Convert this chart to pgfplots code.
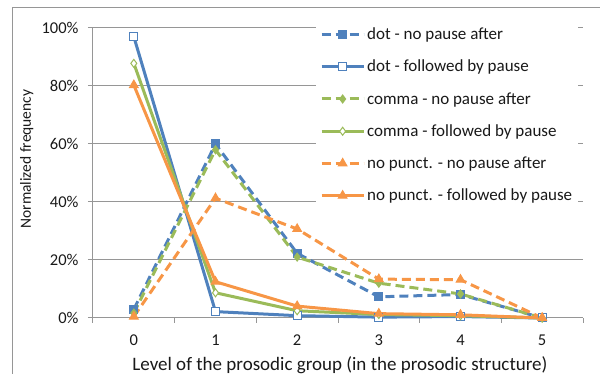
\documentclass[border=0pt]{standalone}
\usepackage{pgfplots}
\pgfplotsset{compat=1.18}
\usepackage{fontspec}
\setmainfont{Carlito}
\definecolor{xblue}{RGB}{79,129,189}
\definecolor{xgreen}{RGB}{155,187,89}
\definecolor{xorange}{RGB}{247,150,70}
\definecolor{xgrid}{RGB}{150,150,150}

\begin{document}
\begin{tikzpicture}
\begin{axis}[
  at={(0pt,0pt)}, anchor=south west,
  scale only axis, width=490pt, height=290pt,
  xmin=-0.5, xmax=5.5, ymin=0, ymax=100,
  clip=false,
  axis x line*=bottom, axis y line*=left,
  axis line style={xgrid, line width=1pt, -},
  xtick={0,...,5},
  minor xtick={-0.5,0.5,...,5.5},
  major x tick style={draw=none},
  ytick={0,20,...,100},
  yticklabel={\pgfmathprintnumber{\tick}\%},
  tick align=outside,
  major tick length=5pt, minor tick length=5pt,
  tick style={xgrid, line width=1pt},
  ymajorgrids,
  major grid style={xgrid, line width=1pt},
  /pgf/number format/assume math mode=true,
  ticklabel style={font=\fontsize{16.5}{18}\selectfont, text=black!90},
  xticklabel style={anchor=center, yshift=-17pt},
  yticklabel style={anchor=east, xshift=-6pt},
  xlabel={Level of the prosodic group (in the prosodic structure)},
  ylabel={Normalized frequency},
  xlabel style={at={(axis description cs:0.504,-0.162)}, anchor=center, font=\fontsize{19}{21}\selectfont, text=black!90},
  ylabel style={at={(axis description cs:-0.135,0.548)}, anchor=center, font=\fontsize{15.5}{17}\selectfont, text=black!90},
  legend style={at={(axis description cs:0.455,1.022)}, anchor=north west,
    draw=none, fill=white, font=\fontsize{17}{20}\selectfont,
    row sep=15pt, inner xsep=4pt, inner ysep=4pt, text=black!90},
  legend cell align=left,
  legend image code/.code={
    \draw[#1, mark=none] (0pt,0pt) -- (42pt,0pt);
    \draw[#1, only marks] plot coordinates {(21pt,0pt)};
  },
]
\addplot[xblue, line width=3pt, dash pattern=on 9pt off 5pt, mark=square*, mark size=4pt, mark options={solid, fill=xblue, line width=1pt}]
  coordinates {(0,3) (1,60) (2,22.3) (3,7.3) (4,8.1) (5,0)};
\addlegendentry{dot - no pause after}
\addplot[xblue, line width=3pt, mark=square*, mark size=4pt, mark options={solid, fill=white, line width=1pt}]
  coordinates {(0,97) (1,2.2) (2,0.8) (3,0.3) (4,0.5) (5,0)};
\addlegendentry{dot - followed by pause}
\addplot[xgreen, line width=3pt, dash pattern=on 9pt off 5pt, mark=diamond*, mark size=4pt, mark options={solid, fill=xgreen, line width=1pt}]
  coordinates {(0,1.7) (1,58) (2,21) (3,12) (4,8.3) (5,0)};
\addlegendentry{comma - no pause after}
\addplot[xgreen, line width=3pt, mark=diamond*, mark size=4pt, mark options={solid, fill=white, line width=1pt}]
  coordinates {(0,87.8) (1,8.7) (2,2.5) (3,1.2) (4,0.8) (5,0)};
\addlegendentry{comma - followed by pause}
\addplot[xorange, line width=3pt, dash pattern=on 9pt off 5pt, mark=triangle*, mark size=5pt, mark options={solid, fill=xorange, line width=1pt}]
  coordinates {(0,0.5) (1,41.3) (2,30.7) (3,13.4) (4,13.2) (5,0)};
\addlegendentry{no punct. - no pause after}
\addplot[xorange, line width=3pt, mark=triangle*, mark size=5pt, mark options={solid, fill=xorange, line width=1pt}]
  coordinates {(0,80.3) (1,12.5) (2,4.1) (3,1.5) (4,1.1) (5,0)};
\addlegendentry{no punct. - followed by pause}
\end{axis}
\draw[xgrid, line width=1pt] (-80pt,-70pt) -- (-80pt,310pt) -- (520pt,310pt);
\pgfresetboundingbox
\path[use as bounding box] (-93pt,-56pt) rectangle (507pt,318pt);
\end{tikzpicture}
\end{document}
